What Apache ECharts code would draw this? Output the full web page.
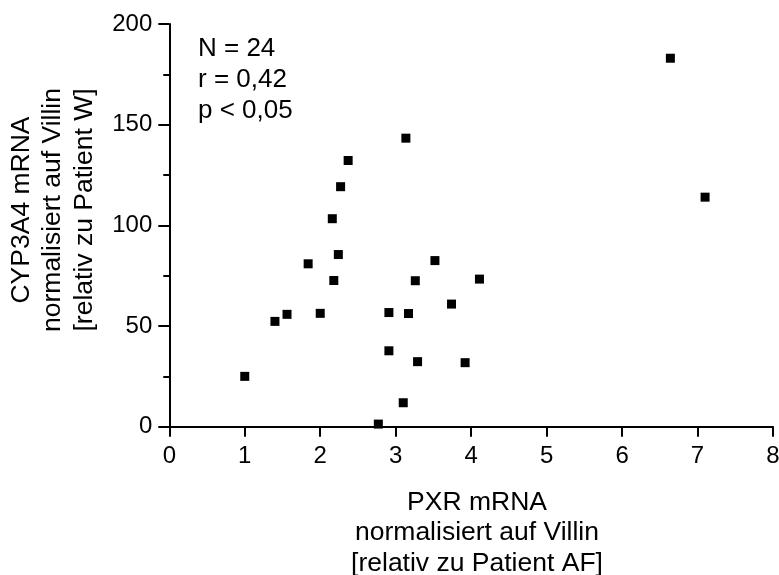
<!DOCTYPE html>
<html>
<head>
<meta charset="utf-8">
<script src="https://cdn.jsdelivr.net/npm/echarts@6/dist/echarts.min.js"></script>
<style>
  html, body { margin: 0; padding: 0; background: #fff; }
  #chart { width: 779px; height: 575px; }
</style>
</head>
<body>
<div id="chart"></div>
<script>
// PXR mRNA (x) versus CYP3A4 mRNA (y), one point per patient
const pxr = [1.00, 1.40, 1.56, 1.84, 2.00, 2.16, 2.18, 2.24, 2.27, 2.37, 2.77, 2.91,
             2.91, 3.10, 3.135, 3.17, 3.26, 3.29, 3.52, 3.74, 3.92, 4.11, 6.64, 7.10];
const cyp3a4 = [25.0, 52.3, 55.8, 80.9, 56.3, 103.3, 72.6, 85.5, 119.2, 132.2, 1.3, 56.7,
                37.7, 11.9, 143.3, 56.2, 72.5, 32.3, 82.5, 60.9, 31.8, 73.3, 183.0, 114.0];

// axis tick values
const xTicks = [0, 1, 2, 3, 4, 5, 6, 7, 8];
const yTicks = [0, 50, 100, 150, 200];

// statistics box
const statsLines = ['N = 24', 'r = 0,42', 'p < 0,05'];

const xTitleLines = ['PXR mRNA', 'normalisiert auf Villin', '[relativ zu Patient AF]'];
const yTitleLines = ['CYP3A4 mRNA', 'normalisiert auf Villin', '[relativ zu Patient W]'];

const FONT = '"Liberation Sans", Arial, Helvetica, sans-serif';
const chart = echarts.init(document.getElementById('chart'), null, { renderer: 'canvas' });

const points = pxr.map((x, i) => [x, cyp3a4[i]]);

chart.setOption({
  animation: false,
  backgroundColor: '#ffffff',
  grid: {
    left: 169.3, right: 6, top: 24, bottom: 148.3,
    containLabel: false,
    outerBoundsMode: 'none'
  },
  xAxis: {
    type: 'value',
    min: xTicks[0],
    max: xTicks[xTicks.length - 1],
    interval: xTicks[1] - xTicks[0],
    axisLine: { show: true, onZero: false, lineStyle: { color: '#000', width: 2 } },
    axisTick: { show: true, inside: false, length: 10, lineStyle: { color: '#000', width: 2 } },
    axisLabel: { color: '#000', fontFamily: FONT, fontSize: 24, margin: 18, showMaxLabel: true },
    splitLine: { show: false }
  },
  yAxis: {
    type: 'value',
    min: yTicks[0],
    max: yTicks[yTicks.length - 1],
    interval: yTicks[1] - yTicks[0],
    axisLine: { show: true, onZero: false, lineStyle: { color: '#000', width: 2 } },
    axisTick: { show: true, inside: false, length: 11, lineStyle: { color: '#000', width: 2 } },
    minorTick: { show: true, splitNumber: 2, length: 6, lineStyle: { color: '#000', width: 2 } },
    axisLabel: { color: '#000', fontFamily: FONT, fontSize: 24, margin: 17 },
    splitLine: { show: false },
    minorSplitLine: { show: false }
  },
  graphic: [
    {
      type: 'text',
      left: 198,
      top: 33,
      style: {
        text: statsLines.join('\n'),
        fontFamily: FONT,
        fontSize: 26,
        lineHeight: 31,
        fill: '#000'
      }
    },
    {
      type: 'text',
      x: 477,
      y: 533,
      style: {
        text: xTitleLines.join('\n'),
        fontFamily: FONT,
        fontSize: 26.5,
        lineHeight: 30.5,
        fill: '#000',
        align: 'center',
        verticalAlign: 'middle'
      }
    },
    {
      type: 'text',
      x: 53,
      y: 210,
      rotation: Math.PI / 2,
      style: {
        text: yTitleLines.join('\n'),
        fontFamily: FONT,
        fontSize: 26.5,
        lineHeight: 31.5,
        fill: '#000',
        align: 'center',
        verticalAlign: 'middle'
      }
    }
  ],
  series: [
    {
      type: 'scatter',
      data: points,
      symbol: 'rect',
      symbolSize: 9,
      clip: false,
      itemStyle: { color: '#000', opacity: 1 }
    }
  ]
});
</script>
</body>
</html>
